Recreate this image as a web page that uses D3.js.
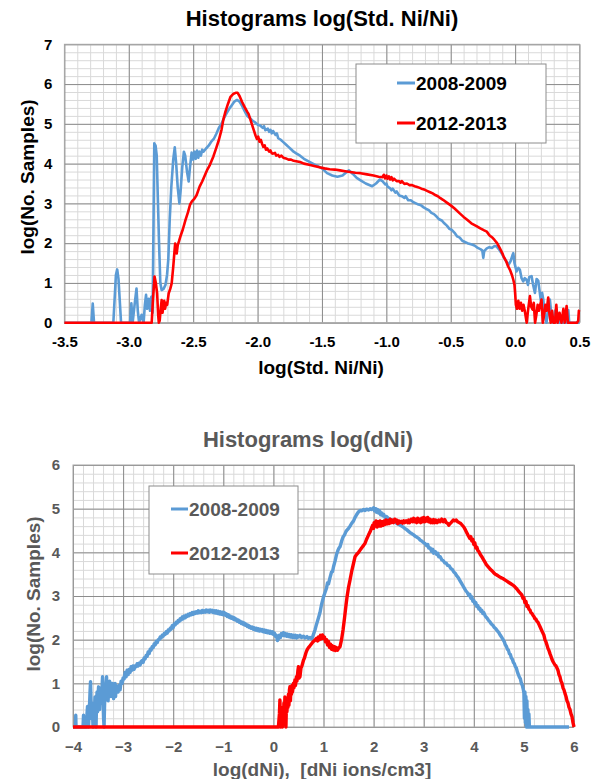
<!DOCTYPE html>
<html>
<head>
<meta charset="utf-8">
<script src="https://cdn.jsdelivr.net/npm/d3@7"></script>
<style>
  body { margin: 0; background: #fff; }
  svg text { font-family: "Liberation Sans", Arial, sans-serif; font-weight: bold; white-space: pre; }
</style>
</head>
<body>
<div id="plotholder"></div>
<script>
// ---- data ----
const seriesNames = ['2008-2009', '2012-2013']
const seriesColors = ['#5b9bd5', '#ff0000']

// chart 1: log(Std. Ni/Ni) vs log(No. Samples)
const stdTicksX = [-3.5, -3.0, -2.5, -2.0, -1.5, -1.0, -0.5, 0.0, 0.5]
const stdTicksY = [0, 1, 2, 3, 4, 5, 6, 7]

const stdBlue = [
  [-3.5,0],[-3.29,0],[-3.28,0.48],[-3.27,0],[-3.12,0],[-3.10,1.2],[-3.09,1.34],[-3.08,1.1],[-3.06,0],[-2.99,0],
  [-2.98,0.49],[-2.97,0],[-2.955,0.45],[-2.94,0.86],[-2.93,0.3],[-2.92,0],[-2.9,0.2],[-2.885,0],[-2.875,0.45],[-2.866,0.70],
  [-2.857,0.35],[-2.845,0.6],[-2.835,0.3],[-2.825,0.65],[-2.815,0.25],[-2.808,2.5],[-2.802,4.51],[-2.792,4.45],[-2.783,4.2],[-2.775,3.2],
  [-2.765,2.0],[-2.755,1.0],[-2.745,0.82],[-2.73,0.85],[-2.715,0.95],[-2.703,1.2],[-2.693,1.6],[-2.682,2.6],[-2.67,3.4],[-2.655,4.1],
  [-2.643,4.41],[-2.632,4.0],[-2.62,3.4],[-2.607,3.0],[-2.598,3.3],[-2.585,3.9],[-2.572,4.30],[-2.562,4.2],[-2.548,3.8],[-2.535,3.55],
  [-2.525,3.9],[-2.512,4.28],[-2.5,4.1],[-2.49,4.3],[-2.48,4.12],[-2.47,4.33],[-2.46,4.15],[-2.45,4.3],[-2.44,4.2],[-2.43,4.35],
  [-2.42,4.3],[-2.4,4.38],[-2.38,4.45],[-2.36,4.55],[-2.34,4.62],[-2.32,4.75],[-2.3,4.9],[-2.28,5.0],[-2.26,5.15],[-2.24,5.27],
  [-2.22,5.38],[-2.2,5.47],[-2.18,5.56],[-2.16,5.6],[-2.14,5.56],[-2.12,5.45],[-2.1,5.32],[-2.08,5.2],[-2.06,5.15],[-2.04,5.08],
  [-2.02,5.04],[-2.0,4.98],[-1.98,4.96],[-1.96,4.9],[-1.95,4.94],[-1.94,4.84],[-1.92,4.88],[-1.91,4.8],[-1.9,4.85],[-1.89,4.76],
  [-1.88,4.82],[-1.86,4.72],[-1.85,4.76],[-1.84,4.64],[-1.82,4.6],[-1.8,4.54],[-1.78,4.48],[-1.76,4.42],[-1.74,4.36],[-1.72,4.3],
  [-1.7,4.26],[-1.67,4.2],[-1.64,4.12],[-1.6,4.05],[-1.56,3.98],[-1.54,3.95],[-1.5,3.88],[-1.46,3.76],[-1.42,3.7],[-1.38,3.67],
  [-1.34,3.7],[-1.31,3.78],[-1.29,3.83],[-1.26,3.74],[-1.23,3.64],[-1.2,3.58],[-1.16,3.5],[-1.11,3.43],[-1.08,3.5],[-1.05,3.6],
  [-1.03,3.56],[-1.01,3.48],[-1.0,3.5],[-0.99,3.42],[-0.97,3.38],[-0.96,3.33],[-0.95,3.37],[-0.93,3.27],[-0.92,3.3],[-0.9,3.2],
  [-0.88,3.18],[-0.86,3.14],[-0.85,3.18],[-0.83,3.08],[-0.81,3.08],[-0.79,3.03],[-0.77,3.0],[-0.75,2.97],[-0.73,2.95],[-0.71,2.9],
  [-0.69,2.86],[-0.67,2.83],[-0.65,2.76],[-0.63,2.73],[-0.61,2.67],[-0.59,2.6],[-0.57,2.57],[-0.55,2.5],[-0.53,2.44],[-0.51,2.36],
  [-0.49,2.33],[-0.47,2.26],[-0.45,2.17],[-0.43,2.14],[-0.41,2.06],[-0.39,2.03],[-0.37,2.0],[-0.35,1.98],[-0.33,1.96],[-0.31,1.93],
  [-0.29,1.88],[-0.27,1.85],[-0.255,1.82],[-0.247,1.63],[-0.24,1.8],[-0.22,1.87],[-0.2,1.9],[-0.18,1.88],[-0.16,1.93],[-0.144,1.92],
  [-0.12,1.82],[-0.1,1.72],[-0.08,1.6],[-0.06,1.5],[-0.05,1.46],[-0.035,1.55],[-0.02,1.7],[-0.014,1.75],[-0.005,1.5],[0.011,1.29],
  [0.025,1.38],[0.037,1.33],[0.05,1.12],[0.063,1.04],[0.075,1.12],[0.089,1.08],[0.1,0.95],[0.11,1.15],[0.128,1.17],[0.14,0.95],
  [0.154,0.75],[0.167,1.1],[0.18,1.05],[0.19,0.8],[0.2,0.55],[0.21,0.75],[0.219,0.58],[0.23,0.2],[0.244,0.0],[0.257,0.4],
  [0.27,0.58],[0.283,0.15],[0.296,0.0],[0.31,0.3],[0.322,0.33],[0.335,0.0],[0.348,0.0],[0.36,0.15],[0.37,0.0],[0.4,0.0],
  [0.407,0.25],[0.413,0.32],[0.42,0.0],[0.5,0.0]
]

const stdRed = [
  [-3.5,0],[-2.822,0],[-2.812,0.6],[-2.80,1.16],[-2.79,1.0],[-2.78,0.74],[-2.772,0.2],[-2.767,0],[-2.76,0.05],[-2.752,0.35],
  [-2.745,0.57],[-2.738,0.25],[-2.732,0.40],[-2.725,0.55],[-2.718,0.35],[-2.71,0.5],[-2.702,0.45],[-2.69,0.74],[-2.678,0.85],[-2.667,0.99],
  [-2.655,1.4],[-2.645,1.8],[-2.64,1.99],[-2.633,1.8],[-2.628,1.74],[-2.62,1.95],[-2.61,2.05],[-2.60,2.16],[-2.58,2.35],[-2.56,2.58],
  [-2.54,2.78],[-2.525,2.96],[-2.51,3.05],[-2.49,3.12],[-2.473,3.21],[-2.45,3.42],[-2.43,3.55],[-2.41,3.7],[-2.39,3.85],[-2.37,3.97],
  [-2.343,4.18],[-2.32,4.4],[-2.3,4.6],[-2.28,4.85],[-2.266,5.1],[-2.25,5.3],[-2.23,5.5],[-2.21,5.68],[-2.19,5.75],[-2.17,5.78],
  [-2.155,5.78],[-2.14,5.7],[-2.12,5.55],[-2.1,5.42],[-2.08,5.3],[-2.07,5.25],[-2.05,5.05],[-2.03,4.85],[-2.015,4.7],[-2.005,4.62],
  [-1.995,4.68],[-1.985,4.55],[-1.975,4.6],[-1.965,4.5],[-1.955,4.42],[-1.945,4.46],[-1.935,4.35],[-1.925,4.38],[-1.91,4.3],[-1.9,4.33],
  [-1.89,4.26],[-1.88,4.25],[-1.865,4.27],[-1.855,4.2],[-1.84,4.22],[-1.83,4.17],[-1.815,4.2],[-1.8,4.15],[-1.78,4.13],[-1.76,4.1],
  [-1.74,4.1],[-1.72,4.07],[-1.7,4.06],[-1.67,4.04],[-1.64,4.0],[-1.6,3.97],[-1.56,3.94],[-1.52,3.91],[-1.48,3.88],[-1.44,3.86],
  [-1.4,3.85],[-1.36,3.83],[-1.32,3.81],[-1.28,3.79],[-1.24,3.77],[-1.2,3.76],[-1.15,3.73],[-1.1,3.7],[-1.06,3.67],[-1.03,3.66],
  [-1.02,3.72],[-1.01,3.63],[-1.0,3.7],[-0.99,3.62],[-0.98,3.68],[-0.97,3.6],[-0.96,3.66],[-0.95,3.58],[-0.94,3.62],[-0.92,3.56],
  [-0.9,3.56],[-0.89,3.52],[-0.88,3.56],[-0.86,3.49],[-0.84,3.5],[-0.82,3.46],[-0.8,3.46],[-0.78,3.43],[-0.76,3.41],[-0.74,3.39],
  [-0.72,3.36],[-0.7,3.34],[-0.68,3.31],[-0.66,3.28],[-0.64,3.25],[-0.62,3.21],[-0.6,3.18],[-0.58,3.13],[-0.56,3.09],[-0.53,3.02],
  [-0.5,2.95],[-0.47,2.87],[-0.43,2.75],[-0.4,2.66],[-0.37,2.58],[-0.34,2.5],[-0.3,2.43],[-0.27,2.37],[-0.24,2.32],[-0.22,2.29],
  [-0.2,2.2],[-0.18,2.15],[-0.16,2.08],[-0.14,2.0],[-0.12,1.88],[-0.1,1.75],[-0.09,1.67],[-0.07,1.55],[-0.055,1.42],[-0.04,1.33],
  [-0.025,1.2],[-0.014,1.08],[-0.005,0.95],[0.0,0.75],[0.006,0.45],[0.015,0.35],[0.025,0.55],[0.035,0.35],[0.045,0.5],[0.055,0.3],
  [0.065,0.45],[0.075,0.3],[0.085,0.1],[0.09,0.0],[0.1,0.3],[0.108,0.5],[0.115,0.67],[0.125,0.4],[0.135,0.33],[0.145,0.5],
  [0.155,0.0],[0.165,0.2],[0.175,0.45],[0.185,0.3],[0.195,0.45],[0.205,0.58],[0.215,0.0],[0.225,0.2],[0.235,0.45],[0.245,0.3],
  [0.257,0.63],[0.267,0.2],[0.277,0.0],[0.287,0.3],[0.297,0.0],[0.309,0.0],[0.32,0.45],[0.33,0.0],[0.345,0.25],[0.36,0.0],
  [0.375,0.35],[0.385,0.0],[0.4,0.42],[0.41,0.0],[0.48,0.0],[0.49,0.05],[0.495,0.3],[0.5,0.32]
]

// chart 2: log(dNi) vs log(No. Samples)
const dniTicksX = [-4, -3, -2, -1, 0, 1, 2, 3, 4, 5, 6]
const dniTicksY = [0, 1, 2, 3, 4, 5, 6]

const dniBlue = [
  [-4,0],[-3.95,0],[-3.945,0.27],[-3.94,0],[-3.8,0],[-3.79,0.27],[-3.78,0],[-3.73,0],[-3.72,0.3],[-3.71,0.47],
  [-3.70,0.1],[-3.69,0],[-3.67,0.5],[-3.66,0.8],[-3.65,1.04],[-3.64,0.6],[-3.63,0.2],[-3.62,0.55],[-3.61,0.3],[-3.60,0.0],
  [-3.59,0.45],[-3.58,0.2],[-3.56,0.69],[-3.55,0.4],[-3.54,0.0],[-3.53,0.55],[-3.52,0.8],[-3.51,0.35],[-3.50,0.7],[-3.49,0.92],
  [-3.48,0.6],[-3.47,0.4],[-3.46,0.8],[-3.45,0.55],[-3.44,0.9],[-3.43,0.7],[-3.41,1.15],[-3.40,0.6],[-3.39,0.2],[-3.38,0],
  [-3.37,0.5],[-3.36,0.85],[-3.35,0.75],[-3.34,1.0],[-3.33,1.15],[-3.32,0.8],[-3.31,0.95],[-3.30,0.6],[-3.29,0.85],[-3.28,0.75],
  [-3.27,1.05],[-3.26,0.7],[-3.25,0.9],[-3.24,0.8],[-3.23,1.0],[-3.22,0.7],[-3.21,1.0],[-3.2,0.9],[-3.19,0.65],[-3.18,0.9],
  [-3.17,0.8],[-3.16,1.0],[-3.15,0.7],[-3.14,0.95],[-3.13,0.85],[-3.12,0.9],[-3.1,0.8],[-3.08,0.95],[-3.06,0.85],[-3.04,1.05],
  [-3.02,1.0],[-3.0,1.12],[-2.98,1.1],[-2.96,1.25],[-2.94,1.15],[-2.92,1.3],[-2.9,1.2],[-2.88,1.32],[-2.86,1.25],[-2.84,1.38],
  [-2.82,1.3],[-2.80,1.4],[-2.78,1.32],[-2.76,1.4],[-2.74,1.38],[-2.72,1.45],[-2.70,1.4],[-2.68,1.46],[-2.66,1.42],[-2.64,1.5],
  [-2.62,1.52],[-2.60,1.48],[-2.58,1.58],[-2.56,1.56],[-2.54,1.64],[-2.52,1.62],[-2.50,1.72],[-2.48,1.68],[-2.46,1.78],[-2.44,1.76],
  [-2.42,1.84],[-2.40,1.82],[-2.38,1.9],[-2.36,1.88],[-2.34,1.96],[-2.32,1.93],[-2.30,2.0],[-2.28,2.0],[-2.26,2.06],[-2.24,2.04],
  [-2.22,2.1],[-2.20,2.08],[-2.18,2.14],[-2.16,2.12],[-2.14,2.18],[-2.12,2.15],[-2.10,2.22],[-2.08,2.2],[-2.06,2.26],[-2.04,2.24],
  [-2.02,2.32],[-2.0,2.28],[-1.98,2.36],[-1.96,2.34],[-1.94,2.4],[-1.92,2.38],[-1.90,2.44],[-1.88,2.42],[-1.86,2.48],[-1.84,2.45],
  [-1.82,2.52],[-1.80,2.48],[-1.78,2.54],[-1.76,2.5],[-1.74,2.56],[-1.72,2.53],[-1.70,2.58],[-1.68,2.55],[-1.66,2.6],[-1.64,2.57],
  [-1.62,2.62],[-1.6,2.58],[-1.58,2.63],[-1.56,2.6],[-1.54,2.64],[-1.52,2.61],[-1.5,2.66],[-1.48,2.62],[-1.46,2.65],[-1.44,2.62],
  [-1.42,2.67],[-1.4,2.63],[-1.38,2.66],[-1.36,2.63],[-1.34,2.68],[-1.32,2.64],[-1.30,2.67],[-1.28,2.63],[-1.26,2.68],[-1.24,2.64],
  [-1.22,2.67],[-1.20,2.62],[-1.18,2.66],[-1.16,2.61],[-1.14,2.66],[-1.12,2.6],[-1.10,2.65],[-1.08,2.59],[-1.06,2.64],[-1.04,2.58],
  [-1.02,2.63],[-1.0,2.57],[-0.98,2.62],[-0.96,2.56],[-0.94,2.59],[-0.92,2.53],[-0.9,2.57],[-0.88,2.51],[-0.86,2.54],[-0.84,2.49],
  [-0.82,2.52],[-0.80,2.47],[-0.78,2.5],[-0.76,2.45],[-0.74,2.47],[-0.72,2.42],[-0.70,2.45],[-0.68,2.4],[-0.66,2.42],[-0.64,2.37],
  [-0.62,2.4],[-0.60,2.35],[-0.58,2.38],[-0.56,2.33],[-0.54,2.35],[-0.52,2.3],[-0.5,2.33],[-0.48,2.28],[-0.46,2.3],[-0.44,2.26],
  [-0.42,2.29],[-0.4,2.24],[-0.38,2.27],[-0.36,2.22],[-0.34,2.26],[-0.32,2.21],[-0.3,2.25],[-0.28,2.2],[-0.26,2.24],[-0.24,2.2],
  [-0.22,2.23],[-0.2,2.18],[-0.18,2.22],[-0.16,2.17],[-0.14,2.21],[-0.12,2.16],[-0.1,2.2],[-0.08,2.15],[-0.06,2.19],[-0.04,2.14],
  [-0.02,2.18],[0.0,2.12],[0.02,2.15],[0.04,2.08],[0.06,2.1],[0.08,1.98],[0.1,2.02],[0.12,2.1],[0.14,2.05],[0.16,2.14],
  [0.18,2.1],[0.2,2.16],[0.22,2.09],[0.24,2.14],[0.26,2.08],[0.28,2.13],[0.3,2.07],[0.32,2.12],[0.34,2.06],[0.36,2.11],
  [0.38,2.05],[0.4,2.1],[0.42,2.05],[0.44,2.1],[0.46,2.04],[0.48,2.09],[0.5,2.06],[0.53,2.1],[0.56,2.05],[0.6,2.08],
  [0.63,2.04],[0.67,2.07],[0.7,2.03],[0.73,2.05],[0.77,2.02],[0.8,2.12],[0.83,2.22],[0.86,2.35],[0.9,2.5],[0.93,2.62],
  [0.96,2.8],[1.0,2.98],[1.03,3.08],[1.06,3.18],[1.08,3.3],[1.10,3.28],[1.13,3.42],[1.16,3.55],[1.18,3.56],[1.2,3.67],
  [1.23,3.8],[1.26,3.95],[1.29,4.05],[1.31,4.1],[1.33,4.13],[1.36,4.25],[1.39,4.35],[1.42,4.4],[1.45,4.48],[1.47,4.51],
  [1.5,4.55],[1.53,4.6],[1.56,4.66],[1.6,4.72],[1.63,4.8],[1.66,4.86],[1.7,4.93],[1.73,4.96],[1.76,4.95],[1.8,4.98],
  [1.83,4.96],[1.86,4.99],[1.9,4.97],[1.93,5.0],[1.96,4.98],[2.0,5.02],[2.02,4.95],[2.04,5.0],[2.06,4.92],[2.08,4.98],
  [2.1,4.9],[2.12,4.95],[2.14,4.86],[2.16,4.9],[2.18,4.84],[2.2,4.87],[2.23,4.8],[2.26,4.82],[2.3,4.77],[2.33,4.76],
  [2.36,4.74],[2.4,4.71],[2.43,4.7],[2.46,4.66],[2.5,4.64],[2.53,4.62],[2.56,4.6],[2.6,4.57],[2.63,4.54],[2.66,4.52],
  [2.7,4.48],[2.73,4.45],[2.76,4.43],[2.8,4.4],[2.83,4.37],[2.86,4.35],[2.9,4.32],[2.93,4.28],[2.96,4.26],[3.0,4.22],
  [3.03,4.2],[3.06,4.15],[3.08,4.18],[3.1,4.1],[3.13,4.1],[3.16,4.02],[3.18,4.07],[3.2,3.98],[3.23,4.02],[3.26,3.95],
  [3.28,3.98],[3.3,3.9],[3.33,3.9],[3.36,3.83],[3.39,3.81],[3.42,3.76],[3.45,3.75],[3.48,3.7],[3.51,3.69],[3.54,3.63],
  [3.57,3.61],[3.6,3.55],[3.63,3.52],[3.66,3.46],[3.69,3.42],[3.72,3.36],[3.75,3.3],[3.78,3.24],[3.81,3.18],[3.84,3.12],
  [3.87,3.08],[3.9,3.01],[3.92,3.04],[3.94,2.95],[3.96,2.98],[3.98,2.88],[4.0,2.9],[4.02,2.82],[4.04,2.85],[4.06,2.76],
  [4.08,2.78],[4.1,2.7],[4.12,2.72],[4.14,2.65],[4.16,2.67],[4.18,2.6],[4.2,2.62],[4.23,2.54],[4.26,2.5],[4.29,2.45],
  [4.32,2.41],[4.35,2.36],[4.38,2.33],[4.41,2.28],[4.44,2.25],[4.47,2.2],[4.5,2.16],[4.53,2.1],[4.56,2.05],[4.59,1.99],
  [4.61,1.95],[4.63,1.88],[4.65,1.85],[4.67,1.78],[4.69,1.76],[4.71,1.68],[4.73,1.66],[4.75,1.58],[4.77,1.55],[4.79,1.48],
  [4.81,1.45],[4.83,1.38],[4.85,1.35],[4.87,1.26],[4.89,1.2],[4.91,1.14],[4.93,1.1],[4.95,1.0],[4.97,0.95],[4.99,0.85],
  [5.0,0.78],[5.01,0.2],[5.02,0.8],[5.03,0.1],[5.04,0.7],[5.05,0],[5.06,0.6],[5.07,0],[5.08,0.4],[5.09,0],
  [5.1,0.3],[5.11,0],[5.9,0]
]

const dniRed = [
  [-4,0],[0.1,0],[0.12,0.3],[0.13,0.62],[0.14,0.1],[0.15,0],[0.16,0.45],[0.17,0.3],[0.18,0],[0.19,0.4],
  [0.2,0.2],[0.21,0.55],[0.22,0.3],[0.23,0.69],[0.24,0.2],[0.25,0],[0.26,0.5],[0.27,0.35],[0.28,0.62],[0.29,0.45],
  [0.3,0.75],[0.31,0.5],[0.32,0.85],[0.33,0.92],[0.34,0.6],[0.35,0.88],[0.36,0.75],[0.37,0.95],[0.38,0.8],[0.4,1.0],
  [0.41,0.9],[0.43,1.08],[0.44,0.95],[0.46,1.15],[0.47,1.05],[0.49,1.3],[0.5,1.38],[0.51,1.12],[0.53,1.15],[0.55,1.35],
  [0.57,1.4],[0.6,1.53],[0.62,1.58],[0.65,1.7],[0.67,1.76],[0.7,1.82],[0.73,1.86],[0.77,1.92],[0.8,1.96],[0.83,1.99],
  [0.86,2.03],[0.88,1.97],[0.9,2.06],[0.92,2.0],[0.94,2.1],[0.96,2.02],[0.98,2.11],[1.0,2.03],[1.02,2.06],[1.04,1.95],
  [1.06,2.0],[1.08,1.88],[1.1,1.96],[1.12,1.82],[1.14,1.9],[1.16,1.78],[1.18,1.86],[1.2,1.76],[1.22,1.84],[1.24,1.75],
  [1.26,1.82],[1.28,1.76],[1.3,1.8],[1.33,1.84],[1.36,2.0],[1.39,2.22],[1.42,2.5],[1.45,2.8],[1.47,2.98],[1.5,3.2],
  [1.53,3.37],[1.56,3.55],[1.6,3.75],[1.63,3.9],[1.66,3.95],[1.7,4.0],[1.73,4.05],[1.76,4.1],[1.8,4.16],[1.83,4.21],
  [1.86,4.3],[1.9,4.4],[1.93,4.47],[1.96,4.56],[1.98,4.62],[2.0,4.55],[2.01,4.68],[2.03,4.6],[2.05,4.72],[2.07,4.58],
  [2.09,4.7],[2.11,4.6],[2.13,4.72],[2.15,4.6],[2.17,4.7],[2.19,4.62],[2.21,4.72],[2.23,4.64],[2.25,4.74],[2.27,4.65],
  [2.29,4.73],[2.31,4.66],[2.33,4.76],[2.35,4.68],[2.37,4.74],[2.4,4.68],[2.42,4.76],[2.44,4.7],[2.46,4.74],[2.48,4.66],
  [2.5,4.72],[2.52,4.68],[2.55,4.71],[2.58,4.67],[2.6,4.72],[2.62,4.68],[2.65,4.72],[2.68,4.68],[2.7,4.74],[2.72,4.68],
  [2.75,4.76],[2.78,4.7],[2.8,4.78],[2.82,4.7],[2.84,4.76],[2.86,4.68],[2.88,4.78],[2.9,4.7],[2.92,4.76],[2.94,4.68],
  [2.96,4.78],[2.98,4.7],[3.0,4.8],[3.02,4.7],[3.04,4.78],[3.06,4.72],[3.08,4.8],[3.1,4.7],[3.12,4.76],[3.14,4.68],
  [3.16,4.74],[3.18,4.68],[3.2,4.75],[3.22,4.68],[3.24,4.74],[3.27,4.68],[3.3,4.74],[3.33,4.7],[3.36,4.76],[3.39,4.7],
  [3.42,4.75],[3.45,4.68],[3.48,4.66],[3.5,4.62],[3.53,4.66],[3.56,4.7],[3.59,4.74],[3.62,4.72],[3.65,4.74],[3.68,4.7],
  [3.71,4.68],[3.74,4.66],[3.77,4.62],[3.8,4.58],[3.83,4.52],[3.86,4.45],[3.89,4.38],[3.92,4.32],[3.94,4.36],[3.96,4.26],
  [3.98,4.3],[4.0,4.18],[4.02,4.22],[4.04,4.1],[4.06,4.12],[4.08,4.04],[4.1,4.02],[4.13,3.95],[4.16,3.9],[4.19,3.84],
  [4.22,3.78],[4.25,3.72],[4.28,3.68],[4.31,3.64],[4.34,3.6],[4.37,3.57],[4.4,3.53],[4.43,3.5],[4.46,3.48],[4.5,3.45],
  [4.54,3.42],[4.58,3.4],[4.62,3.37],[4.66,3.34],[4.7,3.31],[4.74,3.28],[4.78,3.25],[4.82,3.21],[4.86,3.16],[4.9,3.1],
  [4.94,3.05],[4.96,3.02],[4.98,2.95],[5.0,2.96],[5.02,2.85],[5.04,2.88],[5.06,2.76],[5.08,2.78],[5.1,2.7],[5.12,2.68],
  [5.14,2.62],[5.16,2.6],[5.18,2.56],[5.2,2.53],[5.22,2.48],[5.24,2.47],[5.26,2.42],[5.28,2.4],[5.3,2.35],[5.32,2.3],
  [5.34,2.25],[5.36,2.2],[5.38,2.15],[5.4,2.1],[5.42,2.0],[5.44,1.95],[5.46,1.88],[5.48,1.8],[5.5,1.75],[5.52,1.68],
  [5.54,1.62],[5.56,1.55],[5.58,1.5],[5.6,1.46],[5.62,1.42],[5.64,1.4],[5.66,1.35],[5.68,1.3],[5.7,1.2],[5.72,1.15],
  [5.74,1.05],[5.76,1.0],[5.78,0.9],[5.8,0.85],[5.82,0.77],[5.84,0.7],[5.86,0.6],[5.88,0.55],[5.9,0.45],[5.92,0.4],
  [5.94,0.3],[5.96,0.24],[5.98,0.1],[6.0,0]
]

// ---- drawing ----
const svg = d3.select('#plotholder').append('svg')
  .attr('width', 599)
  .attr('height', 779)

const drawchart = (opts) => {
  /* draws one excel-like line chart with fine grid, legend and titles */
  const { box, xdomain, ydomain, xticks, yticks, xminor, yminor, fmt, textcolor, series } = opts
  const x = d3.scaleLinear().domain(xdomain).range([box.left, box.right])
  const y = d3.scaleLinear().domain(ydomain).range([box.bottom, box.top])
  const g = svg.append('g')

  // minor grid
  g.append('g')
    .attr('transform', `translate(0,${box.bottom})`)
    .call(d3.axisBottom(x).tickValues(xminor).tickSize(-(box.bottom - box.top)).tickFormat(''))
    .call(a => a.select('.domain').remove())
    .call(a => a.selectAll('line').attr('stroke', '#d9d9d9').attr('stroke-width', 1))
  g.append('g')
    .attr('transform', `translate(${box.left},0)`)
    .call(d3.axisLeft(y).tickValues(yminor).tickSize(-(box.right - box.left)).tickFormat(''))
    .call(a => a.select('.domain').remove())
    .call(a => a.selectAll('line').attr('stroke', '#d9d9d9').attr('stroke-width', 1))

  // major grid + tick labels
  g.append('g')
    .attr('transform', `translate(0,${box.bottom})`)
    .call(d3.axisBottom(x).tickValues(xticks).tickSize(-(box.bottom - box.top)).tickPadding(14).tickFormat(fmt))
    .call(a => a.select('.domain').remove())
    .call(a => a.selectAll('line').attr('stroke', '#8c8c8c').attr('stroke-width', 1))
    .call(a => a.selectAll('text').attr('fill', textcolor).style('font-size', '15px').attr('dy', '0.71em'))
  g.append('g')
    .attr('transform', `translate(${box.left},0)`)
    .call(d3.axisLeft(y).tickValues(yticks).tickSize(-(box.right - box.left)).tickPadding(opts.ypad).tickFormat(d3.format('d')))
    .call(a => a.select('.domain').remove())
    .call(a => a.selectAll('line').attr('stroke', '#8c8c8c').attr('stroke-width', 1))
    .call(a => a.selectAll('text').attr('fill', textcolor).style('font-size', '15px'))

  g.append('rect')
    .attr('x', box.left).attr('y', box.top)
    .attr('width', box.right - box.left).attr('height', box.bottom - box.top)
    .attr('fill', 'none').attr('stroke', '#a6a6a6')

  const line = d3.line().x(d => x(d[0])).y(d => y(d[1]))
  series.forEach((s, i) => {
    g.append('path')
      .datum(s)
      .attr('d', line)
      .attr('fill', 'none')
      .attr('stroke', seriesColors[i])
      .attr('stroke-width', opts.lw)
      .attr('stroke-linejoin', 'round')
  })

  // legend
  const lg = opts.legend
  g.append('rect')
    .attr('x', lg.x).attr('y', lg.y).attr('width', lg.w).attr('height', lg.h)
    .attr('fill', '#fff').attr('stroke', '#8c8c8c')
  seriesNames.forEach((name, i) => {
    const ly = lg.rows[i]
    g.append('line')
      .attr('x1', lg.lx).attr('x2', lg.lx + lg.ll)
      .attr('y1', ly).attr('y2', ly)
      .attr('stroke', seriesColors[i]).attr('stroke-width', 3)
    g.append('text')
      .attr('x', lg.lx + lg.ll + 1).attr('y', ly).attr('dy', '0.35em')
      .attr('fill', textcolor).style('font-size', '19px')
      .text(name)
  })

  // titles
  g.append('text')
    .attr('x', opts.title.x).attr('y', opts.title.y)
    .attr('text-anchor', 'middle').attr('fill', textcolor).style('font-size', '22px')
    .text(opts.title.text)
  g.append('text')
    .attr('x', opts.xlabel.x).attr('y', opts.xlabel.y)
    .attr('text-anchor', 'middle').attr('fill', textcolor).style('font-size', '19px')
    .text(opts.xlabel.text)
  g.append('text')
    .attr('transform', `translate(${opts.ylabel.x},${opts.ylabel.y}) rotate(-90)`)
    .attr('text-anchor', 'middle').attr('dy', '0.35em').attr('fill', textcolor).style('font-size', '19px')
    .text(opts.ylabel.text)
}

drawchart({
  box: { left: 64.4, right: 579.5, top: 44.3, bottom: 322.7 },
  xdomain: [-3.5, 0.5], ydomain: [0, 7],
  xticks: stdTicksX, yticks: stdTicksY,
  xminor: d3.range(-34, 5).map(d => d / 10),
  yminor: d3.range(0, 36).map(d => d / 5),
  fmt: d => d.toFixed(1),
  ypad: 12,
  textcolor: '#000',
  lw: 2.6,
  series: [stdBlue, stdRed],
  legend: { x: 356, y: 64, w: 190, h: 79, lx: 397, ll: 18, rows: [83, 123] },
  title: { x: 322, y: 26, text: 'Histograms log(Std. Ni/Ni)' },
  xlabel: { x: 321, y: 374, text: 'log(Std. Ni/Ni)' },
  ylabel: { x: 27, y: 177, text: 'log(No. Samples)' }
})

drawchart({
  box: { left: 73, right: 574, top: 465, bottom: 727 },
  xdomain: [-4, 6], ydomain: [0, 6],
  xticks: dniTicksX, yticks: dniTicksY,
  xminor: d3.range(-19, 30).map(d => d / 5),
  yminor: d3.range(0, 31).map(d => d / 5),
  fmt: d3.format('d'),
  ypad: 13,
  textcolor: '#595959',
  lw: 3.4,
  series: [dniBlue, dniRed],
  legend: { x: 149, y: 486, w: 149, h: 88, lx: 171, ll: 17, rows: [509, 553] },
  title: { x: 308, y: 447, text: 'Histograms log(dNi)' },
  xlabel: { x: 322, y: 776, text: 'log(dNi),  [dNi ions/cm3]' },
  ylabel: { x: 33, y: 594, text: 'log(No. Samples)' }
})
</script>
</body>
</html>
